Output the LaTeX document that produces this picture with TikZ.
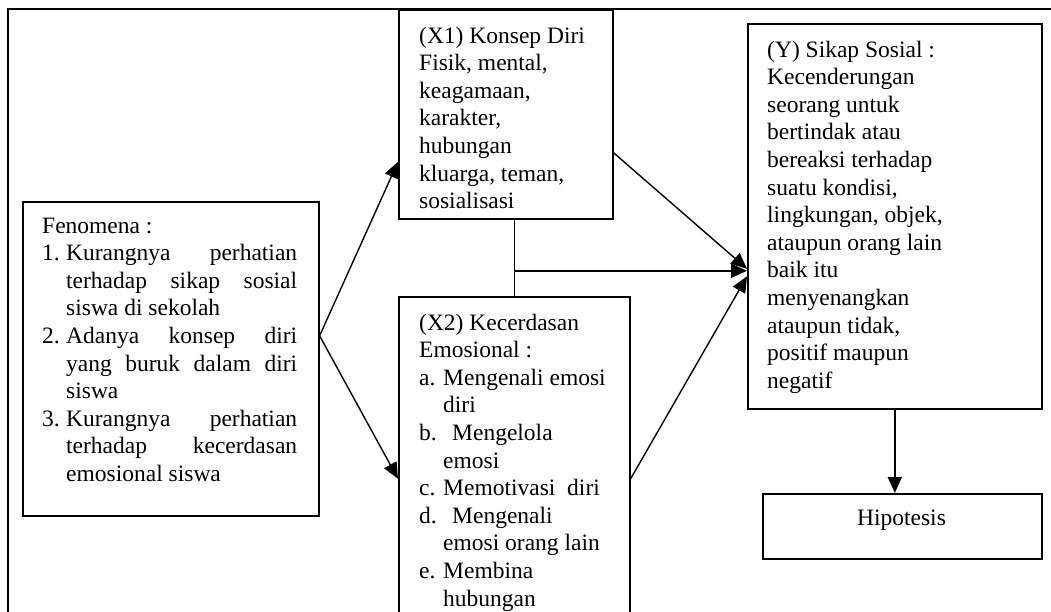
\documentclass[tikz,border=0pt]{standalone}
\usepackage{fontspec}
\setmainfont{Liberation Serif}
\usetikzlibrary{arrows.meta}
\tikzset{
  box/.style={draw, line width=1.6pt, rectangle, inner sep=0pt, anchor=north west},
  txt/.style={inner sep=0pt, anchor=base west},
  conn/.style={line width=1.4pt, -{Triangle[length=16pt,width=14pt]}},
  plain/.style={line width=1.4pt}
}
\newcommand{\bodyfont}{\fontsize{23.5}{27.6}\selectfont}
\newcommand{\js}[1]{\makebox[231pt][s]{#1}}
\newcommand{\num}[1]{\makebox[24pt][l]{#1}}
\newcommand{\ind}{\hspace*{24pt}}
\begin{document}
\begin{tikzpicture}[x=1pt,y=-1pt]
\clip (0,0) rectangle (1051,611);
\fill[white] (0,0) rectangle (1051,611);
% outer frame
\draw[line width=1.6pt] (8,640) -- (8,9) -- (1060,9);
% boxes
\node[box, minimum width=296pt, minimum height=314pt] (fen) at (22,201) {};
\node[box, minimum width=214pt, minimum height=209pt] (x1) at (398,9) {};
\node[box, minimum width=231pt, minimum height=334pt] (x2) at (398,296) {};
\node[box, minimum width=294pt, minimum height=385pt] (y) at (747,23) {};
\node[box, minimum width=279pt, minimum height=65pt] (hip) at (762,493) {};
% texts
\node[txt] (fentext) at (42,233) {\parbox[t]{270pt}{\bodyfont\parindent=0pt
Fenomena :\par
\num{1.}\js{Kurangnya perhatian}\par
\ind\js{terhadap sikap sosial}\par
\ind siswa di sekolah\par
\num{2.}\js{Adanya konsep diri}\par
\ind\js{yang buruk dalam diri}\par
\ind siswa\par
\num{3.}\js{Kurangnya perhatian}\par
\ind\js{terhadap kecerdasan}\par
\ind emosional siswa}};
\node[txt] (x1text) at (419,43) {\parbox[t]{190pt}{\bodyfont\parindent=0pt
(X1) Konsep Diri\par
Fisik, mental,\par
keagamaan,\par
karakter,\par
hubungan\par
kluarga, teman,\par
sosialisasi}};
\node[txt] (x2text) at (419,330) {\parbox[t]{205pt}{\bodyfont\parindent=0pt
(X2) Kecerdasan\par
Emosional :\par
\num{a.}Mengenali emosi\par
\ind diri\par
\num{b.}\hspace*{9pt}Mengelola\par
\ind emosi\par
\num{c.}Memotivasi\ \ diri\par
\num{d.}\hspace*{9pt}Mengenali\par
\ind emosi orang lain\par
\num{e.}Membina\par
\ind hubungan}};
\node[txt] (ytext) at (767,57) {\parbox[t]{265pt}{\bodyfont\parindent=0pt
(Y) Sikap Sosial :\par
Kecenderungan\par
seorang untuk\par
bertindak atau\par
bereaksi terhadap\par
suatu kondisi,\par
lingkungan, objek,\par
ataupun orang lain\par
baik itu\par
menyenangkan\par
ataupun tidak,\par
positif maupun\par
negatif}};
\node[inner sep=0pt, anchor=base] (hiptext) at (901.5,525) {\bodyfont Hipotesis};
% connectors
\draw[conn] ([yshift=23pt]fen.east) -- ([yshift=-47.5pt]x1.west);
\draw[conn] ([yshift=23pt]fen.east) -- ([yshift=-15pt]x2.west);
\draw[conn] ([yshift=-38.5pt]x1.east) -- ([yshift=-52.5pt]y.west);
\draw[plain] (x2.north) -- (x2.north |- x1.south);
\coordinate (jn) at ([yshift=-54.5pt]x2.north |- y.west);
\draw[conn] (jn) -- ([yshift=-54.5pt]y.west);
\draw[conn] ([yshift=-15pt]x2.east) -- ([yshift=-60pt]y.west);
\draw[conn] (y.south) -- (y.south |- hip.north);
\end{tikzpicture}
\end{document}
